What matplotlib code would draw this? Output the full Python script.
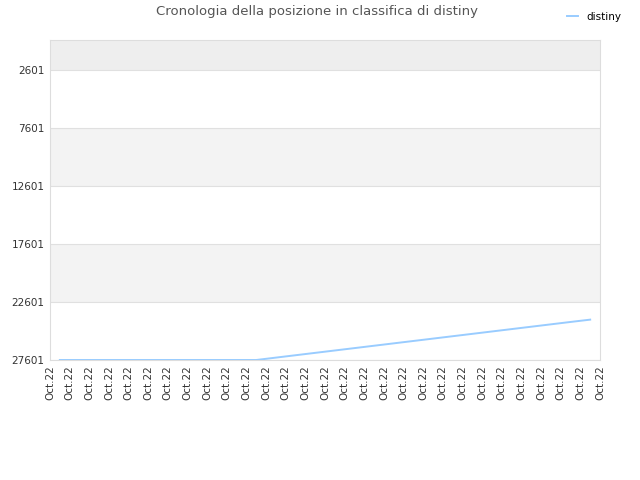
import numpy as np
import matplotlib.pyplot as plt

x_labels = ["Oct.22"] * 29
positions = [27601, 27601, 27601, 27601, 27601, 27601, 27601, 27601, 27601, 27601, 27601,
             27395, 27190, 26985, 26780, 26575, 26370, 26165, 25960, 25755, 25550,
             25345, 25140, 24935, 24730, 24525, 24320, 24120]
y_ticks = [2601, 7601, 12601, 17601, 22601, 27601]

fig = plt.figure(figsize=(6.4, 4.8), dpi=100)
ax = fig.add_axes([50 / 640, 1 - 360 / 480, 550 / 640, 320 / 480])

ax.set_xlim(0, len(x_labels) - 1)
ax.set_ylim(27601, 1)

# alternating bands
ax.axhspan(1, 2601, color="#eeeeee", zorder=0, lw=0)
for i in range(len(y_ticks) - 1):
    if i % 2 == 1:
        ax.axhspan(y_ticks[i], y_ticks[i + 1], color="#f3f3f3", zorder=0, lw=0)
for t in y_ticks:
    ax.axhline(t, color="#e0e0e0", lw=0.8, zorder=1)

xs = np.arange(len(positions)) + 0.5
ax.plot(xs, positions, color="#99ccff", lw=1.4, zorder=3, label="distiny")

ax.set_yticks(y_ticks)
ax.set_yticklabels([str(t) for t in y_ticks])
ax.set_xticks(np.arange(len(x_labels)))
ax.set_xticklabels(x_labels, rotation=90)
ax.tick_params(axis="both", length=0, labelsize=7.5, colors="#333333", pad=4)
for s in ax.spines.values():
    s.set_color("#dddddd")
    s.set_linewidth(0.8)

fig.text(0.495, 1 - 12 / 480, "Cronologia della posizione in classifica di distiny",
         ha="center", va="center", fontsize=9.5, color="#555555")
fig.legend(loc="upper right", bbox_to_anchor=(0.985, 0.995), frameon=False,
           fontsize=7.5, handlelength=1.0, handletextpad=0.8)

fig.savefig("out.png", dpi=100)
